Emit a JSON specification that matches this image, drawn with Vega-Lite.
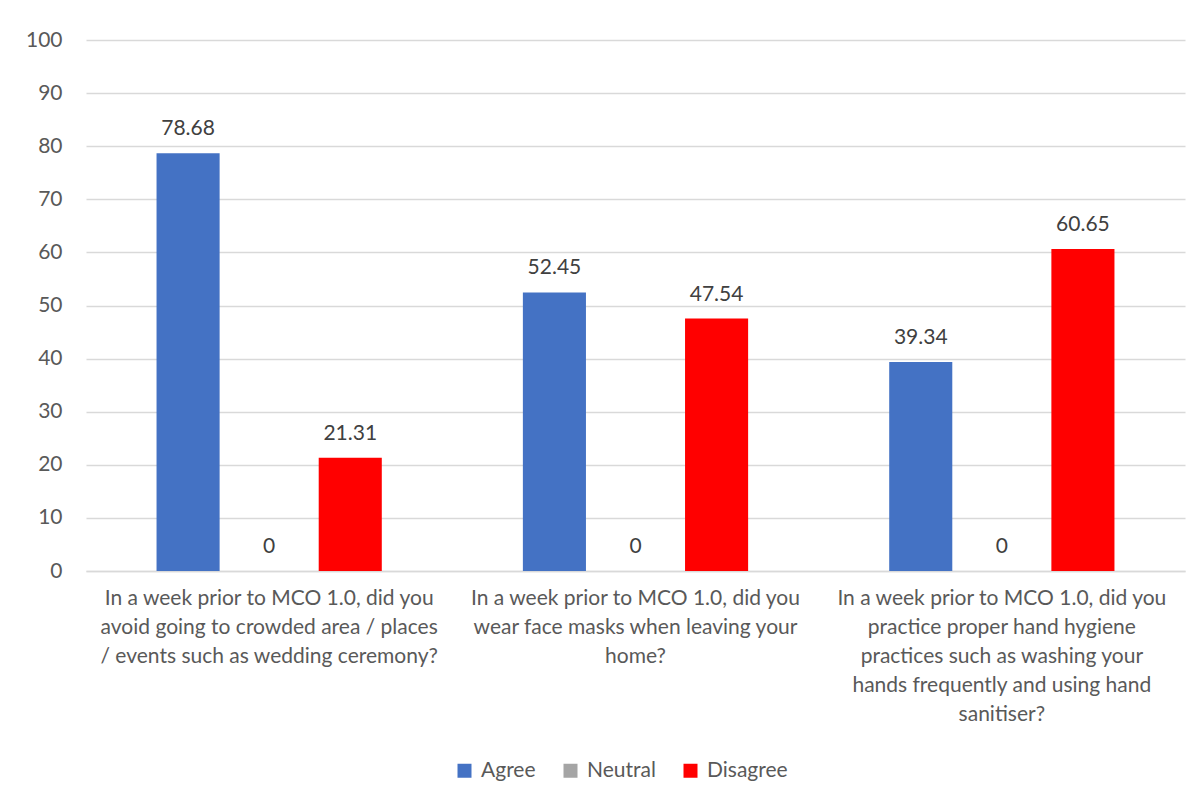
{
  "$schema": "https://vega.github.io/schema/vega-lite/v6.json",
  "autosize": "none",
  "width": 1099,
  "height": 531,
  "padding": {"left": 86, "top": 40, "right": 15, "bottom": 231},
  "background": "white",
  "config": {
    "font": "Lato",
    "view": {"stroke": null}
  },
  "data": {
    "values": [
      {"question": "In a week prior to MCO 1.0, did you|avoid going to crowded area / places|/ events such as wedding ceremony?", "response": "Agree", "percent": 78.68},
      {"question": "In a week prior to MCO 1.0, did you|avoid going to crowded area / places|/ events such as wedding ceremony?", "response": "Neutral", "percent": 0},
      {"question": "In a week prior to MCO 1.0, did you|avoid going to crowded area / places|/ events such as wedding ceremony?", "response": "Disagree", "percent": 21.31},
      {"question": "In a week prior to MCO 1.0, did you|wear face masks when leaving your|home?", "response": "Agree", "percent": 52.45},
      {"question": "In a week prior to MCO 1.0, did you|wear face masks when leaving your|home?", "response": "Neutral", "percent": 0},
      {"question": "In a week prior to MCO 1.0, did you|wear face masks when leaving your|home?", "response": "Disagree", "percent": 47.54},
      {"question": "In a week prior to MCO 1.0, did you|practice proper hand hygiene|practices  such as washing your|hands frequently and using hand|sanitiser?", "response": "Agree", "percent": 39.34},
      {"question": "In a week prior to MCO 1.0, did you|practice proper hand hygiene|practices  such as washing your|hands frequently and using hand|sanitiser?", "response": "Neutral", "percent": 0},
      {"question": "In a week prior to MCO 1.0, did you|practice proper hand hygiene|practices  such as washing your|hands frequently and using hand|sanitiser?", "response": "Disagree", "percent": 60.65}
    ]
  },
  "encoding": {
    "x": {
      "field": "question",
      "type": "nominal",
      "sort": null,
      "scale": {"paddingInner": 0, "paddingOuter": 0},
      "axis": {
        "title": null,
        "labelAngle": 0,
        "labelExpr": "split(datum.label, '|')",
        "labelFont": "Lato",
        "labelFontSize": 21,
        "labelColor": "#595959",
        "labelLineHeight": 29,
        "labelPadding": 16,
        "labelLimit": 400,
        "ticks": false,
        "domain": true,
        "domainColor": "#D9D9D9",
        "domainWidth": 1.3,
        "labelBaseline": "top"
      }
    },
    "xOffset": {
      "field": "response",
      "type": "nominal",
      "sort": ["Agree", "Neutral", "Disagree"],
      "scale": {"paddingInner": 0.222, "paddingOuter": 0.87}
    },
    "y": {
      "field": "percent",
      "type": "quantitative",
      "scale": {"domain": [0, 100]},
      "axis": {
        "title": null,
        "values": [0, 10, 20, 30, 40, 50, 60, 70, 80, 90, 100],
        "domain": false,
        "ticks": false,
        "gridColor": "#D9D9D9",
        "gridWidth": 1.3,
        "labelFont": "Lato",
        "labelFontSize": 21,
        "labelColor": "#595959",
        "labelPadding": 24
      }
    }
  },
  "layer": [
    {
      "mark": {"type": "bar"},
      "encoding": {
        "color": {
          "field": "response",
          "type": "nominal",
          "sort": ["Agree", "Neutral", "Disagree"],
          "scale": {"domain": ["Agree", "Neutral", "Disagree"], "range": ["#4472C4", "#A5A5A5", "#FF0000"]},
          "legend": {
            "title": null,
            "orient": "none",
            "direction": "horizontal",
            "legendX": 368,
            "legendY": 720,
            "symbolType": "square",
            "symbolSize": 196,
            "symbolStrokeWidth": 0,
            "labelFont": "Lato",
            "labelFontSize": 21,
            "labelColor": "#595959",
            "columnPadding": 24,
            "labelOffset": 6
          }
        }
      }
    },
    {
      "mark": {"type": "text", "baseline": "middle", "dy": -24, "fontSize": 21, "color": "#404040", "font": "Lato"},
      "encoding": {
        "text": {"field": "percent", "type": "quantitative"}
      }
    }
  ]
}
